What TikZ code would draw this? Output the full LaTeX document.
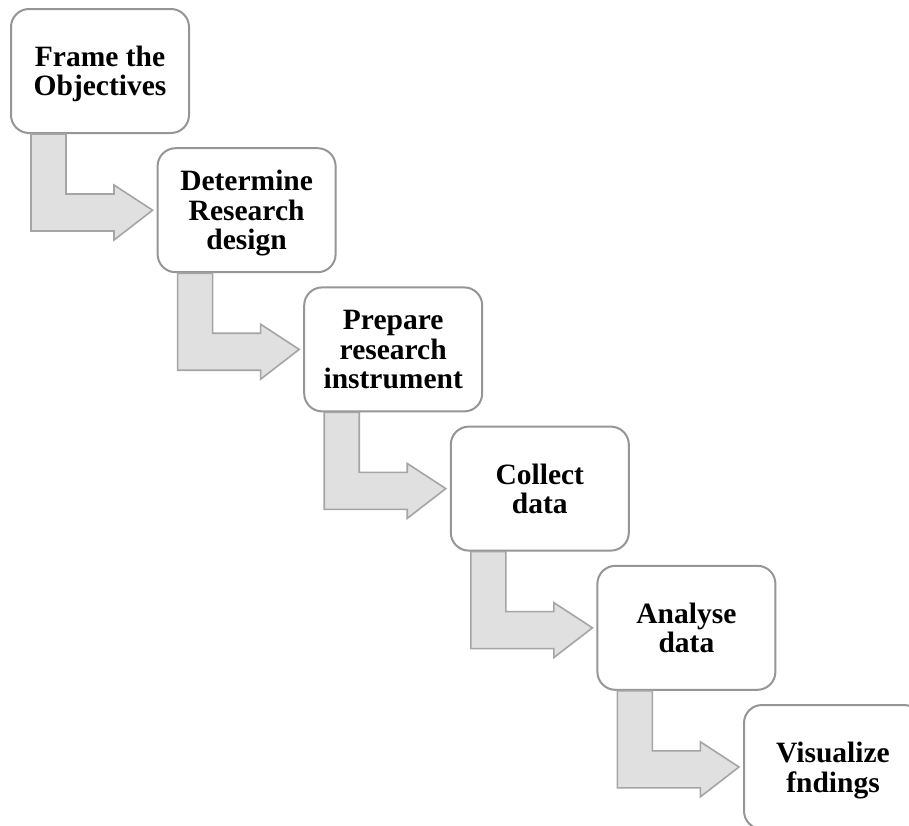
\documentclass[tikz,border=0pt]{standalone}
\usepackage{fontspec}
\setmainfont{Liberation Serif}
\usetikzlibrary{calc}
\definecolor{boxline}{RGB}{150,150,150}
\definecolor{arrline}{RGB}{165,165,165}
\definecolor{arrfill}{RGB}{224,224,224}
\tikzset{
  stage/.style={draw=boxline, line width=2pt, fill=white, rounded corners=18pt,
    minimum width=178pt, minimum height=124pt, align=center, text depth=0pt,
    font=\bfseries\fontsize{29.5}{29.5}\selectfont},
  stepflow/.style={draw=arrline, line width=1.6pt, fill=arrfill, line join=miter}
}
% bent block arrow from below one stage to the left of the next
\newcommand{\stepto}[2]{%
  \draw[stepflow] ($(#1.south west)+(21,0)$) -- ++(35,0) -- ++(0,60) -- ++(48,0)
    -- ++(0,-9) -- ($(#2.west)+(-4,0)$) -- ($(#1.south west)+(104,106)$)
    -- ++(0,-9) -- ++(-83,0) -- cycle;}
\begin{document}
\begin{tikzpicture}[x=1pt,y=-1pt]
      \clip (0,0) rectangle (909,825);
      \fill[white] (0,0) rectangle (909,825);
      \draw
        (100.0,71.0) node[stage] (frame){Frame the\\Objectives}
        (246.6,210.2) node[stage] (design){Determine\\Research\\design}
        (393.2,349.4) node[stage] (instr){Prepare\\research\\instrument}
        (539.8,488.6) node[stage] (collect){Collect\\data}
        (686.4,627.8) node[stage] (analyse){Analyse\\data}
        (833.0,767.0) node[stage] (visual){Visualize\\fndings};
      \stepto{frame}{design}
      \stepto{design}{instr}
      \stepto{instr}{collect}
      \stepto{collect}{analyse}
      \stepto{analyse}{visual}
    \end{tikzpicture}
\end{document}
